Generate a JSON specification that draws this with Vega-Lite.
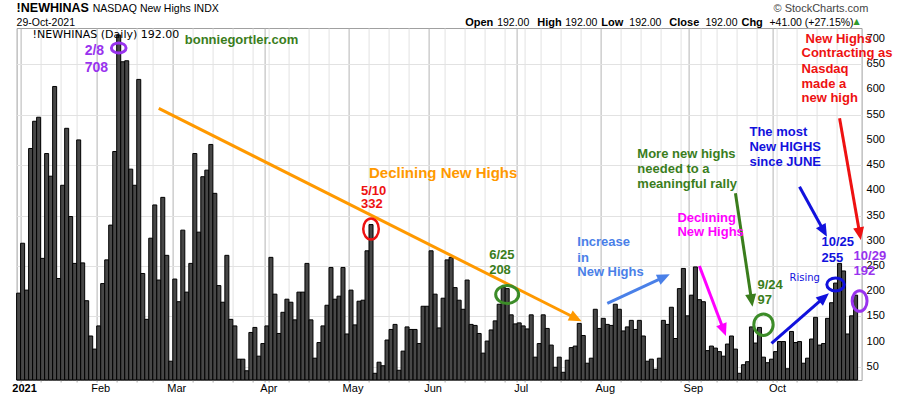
{
"$schema": "https://vega.github.io/schema/vega-lite/v6.json",
"width": 845, "height": 352,
"autosize": "none",
"padding": {"left": 16.6, "top": 28, "right": 38.4, "bottom": 16},
"background": "white",
"config": {"view": {"stroke": "#a0a0a0", "strokeWidth": 1}},
"datasets": {
"bars": [
{"date":"2020-12-31","v":196},{"date":"2021-01-04","v":295},{"date":"2021-01-05","v":202},{"date":"2021-01-06","v":483},{"date":"2021-01-07","v":537},{"date":"2021-01-08","v":545},{"date":"2021-01-11","v":265},{"date":"2021-01-12","v":473},{"date":"2021-01-13","v":428},{"date":"2021-01-14","v":606},{"date":"2021-01-15","v":225},{"date":"2021-01-19","v":410},{"date":"2021-01-20","v":523},{"date":"2021-01-21","v":348},{"date":"2021-01-22","v":255},{"date":"2021-01-25","v":500},{"date":"2021-01-26","v":256},{"date":"2021-01-27","v":181},{"date":"2021-01-28","v":111},{"date":"2021-01-29","v":85},
{"date":"2021-02-01","v":131},{"date":"2021-02-02","v":215},{"date":"2021-02-03","v":262},{"date":"2021-02-04","v":331},{"date":"2021-02-05","v":477},{"date":"2021-02-08","v":708},{"date":"2021-02-09","v":655},{"date":"2021-02-10","v":657},{"date":"2021-02-11","v":442},{"date":"2021-02-12","v":410},{"date":"2021-02-16","v":620},{"date":"2021-02-17","v":235},{"date":"2021-02-18","v":144},{"date":"2021-02-19","v":305},{"date":"2021-02-22","v":371},{"date":"2021-02-23","v":222},{"date":"2021-02-24","v":386},{"date":"2021-02-25","v":271},{"date":"2021-02-26","v":61},
{"date":"2021-03-01","v":224},{"date":"2021-03-02","v":179},{"date":"2021-03-03","v":321},{"date":"2021-03-04","v":198},{"date":"2021-03-05","v":255},{"date":"2021-03-08","v":473},{"date":"2021-03-09","v":317},{"date":"2021-03-10","v":427},{"date":"2021-03-11","v":440},{"date":"2021-03-12","v":491},{"date":"2021-03-15","v":394},{"date":"2021-03-16","v":211},{"date":"2021-03-17","v":178},{"date":"2021-03-18","v":271},{"date":"2021-03-19","v":144},{"date":"2021-03-22","v":131},{"date":"2021-03-23","v":65},{"date":"2021-03-24","v":65},{"date":"2021-03-25","v":42},{"date":"2021-03-26","v":118},{"date":"2021-03-29","v":128},{"date":"2021-03-30","v":71},{"date":"2021-03-31","v":96},
{"date":"2021-04-01","v":131},{"date":"2021-04-05","v":267},{"date":"2021-04-06","v":194},{"date":"2021-04-07","v":116},{"date":"2021-04-08","v":158},{"date":"2021-04-09","v":184},{"date":"2021-04-12","v":178},{"date":"2021-04-13","v":143},{"date":"2021-04-14","v":198},{"date":"2021-04-15","v":198},{"date":"2021-04-16","v":255},{"date":"2021-04-19","v":143},{"date":"2021-04-20","v":67},{"date":"2021-04-21","v":98},{"date":"2021-04-22","v":131},{"date":"2021-04-23","v":172},{"date":"2021-04-26","v":247},{"date":"2021-04-27","v":184},{"date":"2021-04-28","v":190},{"date":"2021-04-29","v":247},{"date":"2021-04-30","v":115},
{"date":"2021-05-03","v":202},{"date":"2021-05-04","v":133},{"date":"2021-05-05","v":180},{"date":"2021-05-06","v":182},{"date":"2021-05-07","v":280},{"date":"2021-05-10","v":332},{"date":"2021-05-11","v":37},{"date":"2021-05-12","v":59},{"date":"2021-05-13","v":52},{"date":"2021-05-14","v":103},{"date":"2021-05-17","v":124},{"date":"2021-05-18","v":134},{"date":"2021-05-19","v":43},{"date":"2021-05-20","v":81},{"date":"2021-05-21","v":129},{"date":"2021-05-24","v":124},{"date":"2021-05-25","v":124},{"date":"2021-05-26","v":96},{"date":"2021-05-27","v":170},{"date":"2021-05-28","v":170},
{"date":"2021-06-01","v":280},{"date":"2021-06-02","v":194},{"date":"2021-06-03","v":127},{"date":"2021-06-04","v":186},{"date":"2021-06-07","v":262},{"date":"2021-06-08","v":267},{"date":"2021-06-09","v":207},{"date":"2021-06-10","v":182},{"date":"2021-06-11","v":164},{"date":"2021-06-14","v":222},{"date":"2021-06-15","v":134},{"date":"2021-06-16","v":132},{"date":"2021-06-17","v":116},{"date":"2021-06-18","v":77},{"date":"2021-06-21","v":101},{"date":"2021-06-22","v":123},{"date":"2021-06-23","v":141},{"date":"2021-06-24","v":174},{"date":"2021-06-25","v":208},{"date":"2021-06-28","v":205},{"date":"2021-06-29","v":153},{"date":"2021-06-30","v":135},
{"date":"2021-07-01","v":137},{"date":"2021-07-02","v":131},{"date":"2021-07-06","v":125},{"date":"2021-07-07","v":153},{"date":"2021-07-08","v":69},{"date":"2021-07-09","v":96},{"date":"2021-07-12","v":153},{"date":"2021-07-13","v":126},{"date":"2021-07-14","v":93},{"date":"2021-07-15","v":49},{"date":"2021-07-16","v":69},{"date":"2021-07-19","v":39},{"date":"2021-07-20","v":63},{"date":"2021-07-21","v":88},{"date":"2021-07-22","v":91},{"date":"2021-07-23","v":136},{"date":"2021-07-26","v":112},{"date":"2021-07-27","v":57},{"date":"2021-07-28","v":67},{"date":"2021-07-29","v":164},{"date":"2021-07-30","v":126},
{"date":"2021-08-02","v":146},{"date":"2021-08-03","v":134},{"date":"2021-08-04","v":132},{"date":"2021-08-05","v":174},{"date":"2021-08-06","v":164},{"date":"2021-08-09","v":121},{"date":"2021-08-10","v":129},{"date":"2021-08-11","v":142},{"date":"2021-08-12","v":124},{"date":"2021-08-13","v":142},{"date":"2021-08-16","v":111},{"date":"2021-08-17","v":61},{"date":"2021-08-18","v":65},{"date":"2021-08-19","v":45},{"date":"2021-08-20","v":67},{"date":"2021-08-23","v":142},{"date":"2021-08-24","v":134},{"date":"2021-08-25","v":168},{"date":"2021-08-26","v":106},{"date":"2021-08-27","v":205},{"date":"2021-08-30","v":245},{"date":"2021-08-31","v":151},
{"date":"2021-09-01","v":192},{"date":"2021-09-02","v":248},{"date":"2021-09-03","v":183},{"date":"2021-09-07","v":179},{"date":"2021-09-08","v":82},{"date":"2021-09-09","v":91},{"date":"2021-09-10","v":87},{"date":"2021-09-13","v":80},{"date":"2021-09-14","v":71},{"date":"2021-09-15","v":95},{"date":"2021-09-16","v":111},{"date":"2021-09-17","v":85},{"date":"2021-09-20","v":37},{"date":"2021-09-21","v":54},{"date":"2021-09-22","v":60},{"date":"2021-09-23","v":129},{"date":"2021-09-24","v":97},{"date":"2021-09-27","v":128},{"date":"2021-09-28","v":69},{"date":"2021-09-29","v":58},{"date":"2021-09-30","v":65},
{"date":"2021-10-01","v":80},{"date":"2021-10-04","v":100},{"date":"2021-10-05","v":100},{"date":"2021-10-06","v":46},{"date":"2021-10-07","v":120},{"date":"2021-10-08","v":98},{"date":"2021-10-11","v":100},{"date":"2021-10-12","v":57},{"date":"2021-10-13","v":67},{"date":"2021-10-14","v":105},{"date":"2021-10-15","v":148},{"date":"2021-10-18","v":93},{"date":"2021-10-19","v":96},{"date":"2021-10-20","v":146},{"date":"2021-10-21","v":177},{"date":"2021-10-22","v":216},{"date":"2021-10-25","v":255},{"date":"2021-10-26","v":240},{"date":"2021-10-27","v":115},{"date":"2021-10-28","v":151},{"date":"2021-10-29","v":192}
],
"ylabels": [
{"date":"2021-11-01","v":50},{"date":"2021-11-01","v":100},{"date":"2021-11-01","v":150},{"date":"2021-11-01","v":200},{"date":"2021-11-01","v":250},{"date":"2021-11-01","v":300},{"date":"2021-11-01","v":350},{"date":"2021-11-01","v":400},{"date":"2021-11-01","v":450},{"date":"2021-11-01","v":500},{"date":"2021-11-01","v":550},{"date":"2021-11-01","v":600},{"date":"2021-11-01","v":650},{"date":"2021-11-01","v":700}
],
"notes": [
{"date":"2021-05-06","v":399.2,"t":"5/10","g":"red"},
{"date":"2021-05-06","v":372.9,"t":"332","g":"red"},
{"date":"2021-06-22","v":271.7,"t":"6/25","g":"green"},
{"date":"2021-06-22","v":241.9,"t":"208","g":"green"},
{"date":"2021-07-23","v":296.9,"t":"Increase","g":"cblue"},
{"date":"2021-07-23","v":266.3,"t":"in","g":"cblue"},
{"date":"2021-07-23","v":237.4,"t":"New Highs","g":"cblue"},
{"date":"2021-08-13","v":471.5,"t":"More new highs","g":"green"},
{"date":"2021-08-13","v":441.7,"t":"needed to a","g":"green"},
{"date":"2021-08-13","v":411.9,"t":"meaningful rally","g":"green"},
{"date":"2021-08-27","v":345.7,"t":"Declining","g":"magenta"},
{"date":"2021-08-27","v":316.7,"t":"New Highs","g":"magenta"},
{"date":"2021-09-27","v":212.2,"t":"9/24","g":"green"},
{"date":"2021-09-27","v":182.4,"t":"97","g":"green"},
{"date":"2021-09-23","v":516.3,"t":"The most","g":"blue"},
{"date":"2021-09-23","v":485.3,"t":"New HIGHS","g":"blue"},
{"date":"2021-09-23","v":455.6,"t":"since JUNE","g":"blue"},
{"date":"2021-10-19","v":296.9,"t":"10/25","g":"blue"},
{"date":"2021-10-19","v":266.3,"t":"255","g":"blue"},
{"date":"2021-10-29","v":269.7,"t":"10/29","g":"purple"},
{"date":"2021-10-29","v":240.5,"t":"192","g":"purple"},
{"date":"2021-10-13","v":699.6,"t":"New Highs","g":"red"},
{"date":"2021-10-12","v":671.9,"t":"Contracting as","g":"red"},
{"date":"2021-10-12","v":640.7,"t":"Nasdaq","g":"red"},
{"date":"2021-10-12","v":610.9,"t":"made a","g":"red"},
{"date":"2021-10-12","v":582.6,"t":"new high","g":"red"},
{"date":"2021-03-04","v":698.2,"t":"bonniegortler.com","g":"green"}
],
"peak": [
{"date":"2021-01-27","v":677,"t":"2/8"},
{"date":"2021-01-27","v":642.1,"t":"708"}
],
"arrows": [
{"id":"trend","g":"orange","date":"2021-02-23","v":562.7},
{"id":"trend","g":"orange","date":"2021-07-22","v":146.7},
{"id":"rally","g":"green","date":"2021-09-17","v":394.1},
{"id":"rally","g":"green","date":"2021-09-23","v":182.8},
{"id":"decl","g":"magenta","date":"2021-09-03","v":249.9},
{"id":"decl","g":"magenta","date":"2021-09-14","v":123.9},
{"id":"incr","g":"cblue","date":"2021-08-03","v":175.9},
{"id":"incr","g":"cblue","date":"2021-08-23","v":227.4},
{"id":"most","g":"blue","date":"2021-10-11","v":407.2},
{"id":"most","g":"blue","date":"2021-10-19","v":320.1},
{"id":"rise","g":"blue","date":"2021-09-30","v":96.5},
{"id":"rise","g":"blue","date":"2021-10-19","v":186.4},
{"id":"contr","g":"red","date":"2021-10-25","v":542.9},
{"id":"contr","g":"red","date":"2021-11-01","v":315.1}
],
"heads": [
{"g":"orange","date":"2021-07-22","v":146.7,"a":26.7},
{"g":"green","date":"2021-09-23","v":182.8,"a":81.5},
{"g":"magenta","date":"2021-09-14","v":123.9,"a":69.3},
{"g":"cblue","date":"2021-08-23","v":227.4,"a":-24.9},
{"g":"blue","date":"2021-10-19","v":320.1,"a":61.3},
{"g":"blue","date":"2021-10-19","v":186.4,"a":-41},
{"g":"red","date":"2021-11-01","v":315.1,"a":80.1}
],
"hdrBold": [
{"date":"2021-06-14","v":732.6,"t":"Open"},
{"date":"2021-07-09","v":732.6,"t":"High"},
{"date":"2021-08-02","v":732.6,"t":"Low"},
{"date":"2021-08-25","v":732.6,"t":"Close"},
{"date":"2021-09-21","v":732.6,"t":"Chg"}
],
"hdrReg": [
{"date":"2021-01-29","v":759.3,"t":"NASDAQ New Highs  INDX"},
{"date":"2020-12-31","v":732.6,"t":"29-Oct-2021"},
{"date":"2021-06-24","v":732.6,"t":"192.00"},
{"date":"2021-07-20","v":732.6,"t":"192.00"},
{"date":"2021-08-11","v":732.6,"t":"192.00"},
{"date":"2021-09-08","v":732.6,"t":"192.00"},
{"date":"2021-09-30","v":732.6,"t":"+41.00 (+27.15%)"}
]
},
"layer": [
{
"data": {"name": "bars"},
"mark": {"type": "bar", "fill": "#474747", "stroke": "#000000", "strokeWidth": 1},
"encoding": {
"x": {"field": "date", "type": "ordinal", "scale": {"type": "band", "paddingInner": 0, "paddingOuter": 0},
 "axis": {"title": null, "orient": "bottom", "bandPosition": 0, "domain": false,
  "values": ["2021-01-04","2021-01-11","2021-01-19","2021-01-25","2021-02-01","2021-02-08","2021-02-16","2021-02-22","2021-03-01","2021-03-08","2021-03-15","2021-03-22","2021-03-29","2021-04-01","2021-04-05","2021-04-12","2021-04-19","2021-04-26","2021-05-03","2021-05-10","2021-05-17","2021-05-24","2021-06-01","2021-06-07","2021-06-14","2021-06-21","2021-06-28","2021-07-01","2021-07-06","2021-07-12","2021-07-19","2021-07-26","2021-08-02","2021-08-09","2021-08-16","2021-08-23","2021-08-30","2021-09-01","2021-09-07","2021-09-13","2021-09-20","2021-09-27","2021-10-01","2021-10-04","2021-10-11","2021-10-18","2021-10-25"],
  "labelExpr": "indexof(['2021-02-01','2021-03-01','2021-04-01','2021-05-03','2021-06-01','2021-07-01','2021-08-02','2021-09-01','2021-10-01'], datum.value) >= 0 ? utcFormat(toDate(datum.value), '%b') : (datum.value == '2021-01-04' ? '2021' : '')",
  "labelAngle": 0, "labelOverlap": false, "labelBound": false, "labelFont": "Liberation Sans", "labelFontSize": 11, "labelColor": "#000000",
  "labelFontWeight": {"condition": {"test": "datum.value == '2021-01-04'", "value": "bold"}, "value": "normal"},
  "labelPadding": 0, "labelOffset": 2,
  "ticks": true, "tickSize": 2, "tickColor": "#aaaaaa",
  "grid": true,
  "gridColor": {"condition": {"test": "indexof(['2021-01-04','2021-02-01','2021-03-01','2021-04-01','2021-05-03','2021-06-01','2021-07-01','2021-08-02','2021-09-01','2021-10-01'], datum.value) >= 0", "value": "#b4b4b4"}, "value": "#e2e2e2"}
 }},
"y": {"field": "v", "type": "quantitative", "scale": {"domain": [23.7, 722], "zero": false, "nice": false},
 "axis": {"title": null, "orient": "right", "values": [50,100,150,200,250,300,350,400,450,500,550,600,650,700], "labels": false, "domain": false, "ticks": false, "grid": true, "gridColor": "#e2e2e2"}},
"y2": {"datum": 23.7}
}
},
{
"data": {"name": "ylabels"},
"mark": {"type": "text", "font": "Liberation Sans", "fontSize": 11, "align": "left", "baseline": "middle", "color": "#000000", "dx": 5},
"encoding": {
"x": {"field": "date", "type": "ordinal", "bandPosition": 1, "scale": {"type": "band", "paddingInner": 0, "paddingOuter": 0}},
"y": {"field": "v", "type": "quantitative"},
"text": {"field": "v", "type": "quantitative"}
}
},
{
"data": {"name": "arrows"},
"mark": {"type": "line", "strokeWidth": 3, "strokeCap": "butt"},
"encoding": {
"x": {"field": "date", "type": "ordinal", "scale": {"type": "band", "paddingInner": 0, "paddingOuter": 0}},
"y": {"field": "v", "type": "quantitative"},
"detail": {"field": "id"},
"color": {"field": "g", "type": "nominal", "legend": null, "scale": {"domain": ["purple","red","orange","green","cblue","magenta","blue"], "range": ["#9933ee","#ee1111","#ff9900","#3a7d1c","#4a80e8","#ff00ff","#1111dd"]}}
}
},
{
"data": {"name": "heads"},
"mark": {"type": "point", "filled": true, "opacity": 1, "size": 200, "strokeWidth": 0, "shape": "M 1 0 L -0.8 -0.78 L -0.8 0.78 Z"},
"encoding": {
"x": {"field": "date", "type": "ordinal", "scale": {"type": "band", "paddingInner": 0, "paddingOuter": 0}},
"y": {"field": "v", "type": "quantitative"},
"angle": {"field": "a", "type": "quantitative", "scale": null},
"color": {"field": "g", "type": "nominal", "legend": null, "scale": {"domain": ["purple","red","orange","green","cblue","magenta","blue"], "range": ["#9933ee","#ee1111","#ff9900","#3a7d1c","#4a80e8","#ff00ff","#1111dd"]}}
}
},
{
"data": {"values": [{"date":"2021-02-08","v":682.4}]},
"mark": {"type": "point", "filled": false, "opacity": 1, "color": "#9933ee", "strokeWidth": 3, "size": 215, "shape": "M -1 0 A 1 0.69 0 1 0 1 0 A 1 0.69 0 1 0 -1 0 Z"},
"encoding": {"x": {"field": "date", "type": "ordinal", "scale": {"type": "band", "paddingInner": 0, "paddingOuter": 0}}, "y": {"field": "v", "type": "quantitative"}}
},
{
"data": {"values": [{"date":"2021-05-10","v":323.3}]},
"mark": {"type": "point", "filled": false, "opacity": 1, "color": "#ee1111", "strokeWidth": 2.5, "size": 441, "shape": "M 0 -1 A 0.74 1 0 1 0 0 1 A 0.74 1 0 1 0 0 -1 Z"},
"encoding": {"x": {"field": "date", "type": "ordinal", "scale": {"type": "band", "paddingInner": 0, "paddingOuter": 0}}, "y": {"field": "v", "type": "quantitative"}}
},
{
"data": {"values": [{"date":"2021-06-28","v":193.3}]},
"mark": {"type": "point", "filled": false, "opacity": 1, "color": "#3c8c28", "strokeWidth": 3, "size": 529, "shape": "M -1 0 A 1 0.78 0 1 0 1 0 A 1 0.78 0 1 0 -1 0 Z"},
"encoding": {"x": {"field": "date", "type": "ordinal", "scale": {"type": "band", "paddingInner": 0, "paddingOuter": 0}}, "y": {"field": "v", "type": "quantitative"}}
},
{
"data": {"values": [{"date":"2021-09-28","v":133.4}]},
"mark": {"type": "point", "filled": false, "opacity": 1, "color": "#3c8c28", "strokeWidth": 3, "size": 462, "shape": "M 0 -1 A 0.9 1 0 1 0 0 1 A 0.9 1 0 1 0 0 -1 Z"},
"encoding": {"x": {"field": "date", "type": "ordinal", "scale": {"type": "band", "paddingInner": 0, "paddingOuter": 0}}, "y": {"field": "v", "type": "quantitative"}}
},
{
"data": {"values": [{"date":"2021-10-22","v":213.3}]},
"mark": {"type": "point", "filled": false, "opacity": 1, "color": "#1111dd", "strokeWidth": 3, "size": 306, "shape": "M -1 0 A 1 0.74 0 1 0 1 0 A 1 0.74 0 1 0 -1 0 Z"},
"encoding": {"x": {"field": "date", "type": "ordinal", "scale": {"type": "band", "paddingInner": 0, "paddingOuter": 0}}, "y": {"field": "v", "type": "quantitative"}}
},
{
"data": {"values": [{"date":"2021-11-01","v":180.4}]},
"mark": {"type": "point", "filled": false, "opacity": 1, "color": "#9933ee", "strokeWidth": 3, "size": 428, "shape": "M 0 -1 A 0.72 1 0 1 0 0 1 A 0.72 1 0 1 0 0 -1 Z"},
"encoding": {"x": {"field": "date", "type": "ordinal", "scale": {"type": "band", "paddingInner": 0, "paddingOuter": 0}}, "y": {"field": "v", "type": "quantitative"}}
},
{
"data": {"name": "notes"},
"mark": {"type": "text", "font": "Liberation Sans", "fontSize": 13, "fontWeight": "bold", "align": "left", "baseline": "middle"},
"encoding": {
"x": {"field": "date", "type": "ordinal", "bandPosition": 0, "scale": {"type": "band", "paddingInner": 0, "paddingOuter": 0}},
"y": {"field": "v", "type": "quantitative"},
"text": {"field": "t"},
"color": {"field": "g", "type": "nominal", "legend": null, "scale": {"domain": ["purple","red","orange","green","cblue","magenta","blue"], "range": ["#9933ee","#ee1111","#ff9900","#3a7d1c","#4a80e8","#ff00ff","#1111dd"]}}
}
},
{
"data": {"name": "peak"},
"mark": {"type": "text", "font": "Liberation Sans", "fontSize": 14, "fontWeight": "bold", "align": "left", "baseline": "middle", "color": "#9933ee"},
"encoding": {
"x": {"field": "date", "type": "ordinal", "bandPosition": 0, "scale": {"type": "band", "paddingInner": 0, "paddingOuter": 0}},
"y": {"field": "v", "type": "quantitative"},
"text": {"field": "t"}
}
},
{
"data": {"values": [{"date":"2021-05-10","v":433.8,"t":"Declining New Highs"}]},
"mark": {"type": "text", "font": "Liberation Sans", "fontSize": 15, "fontWeight": "bold", "align": "left", "baseline": "middle", "color": "#ff9900"},
"encoding": {
"x": {"field": "date", "type": "ordinal", "bandPosition": 0, "scale": {"type": "band", "paddingInner": 0, "paddingOuter": 0}},
"y": {"field": "v", "type": "quantitative"},
"text": {"field": "t"}
}
},
{
"data": {"values": [{"date":"2021-10-07","v":226.6,"t":"Rising"}]},
"mark": {"type": "text", "font": "DejaVu Sans", "fontSize": 10, "align": "left", "baseline": "middle", "color": "#1111dd"},
"encoding": {
"x": {"field": "date", "type": "ordinal", "bandPosition": 0, "scale": {"type": "band", "paddingInner": 0, "paddingOuter": 0}},
"y": {"field": "v", "type": "quantitative"},
"text": {"field": "t"}
}
},
{
"data": {"values": [{"date":"2021-01-07","v":708.2,"t":"!NEWHINAS (Daily) 192.00"}]},
"mark": {"type": "text", "font": "DejaVu Sans", "fontSize": 11, "align": "left", "baseline": "middle", "color": "#000000"},
"encoding": {
"x": {"field": "date", "type": "ordinal", "bandPosition": 0, "scale": {"type": "band", "paddingInner": 0, "paddingOuter": 0}},
"y": {"field": "v", "type": "quantitative"},
"text": {"field": "t"}
}
},
{
"data": {"values": [{"date":"2020-12-31","v":761.1,"t":"!NEWHINAS"}]},
"mark": {"type": "text", "font": "Liberation Sans", "fontSize": 12.5, "fontWeight": "bold", "align": "left", "baseline": "middle", "color": "#000000"},
"encoding": {
"x": {"field": "date", "type": "ordinal", "bandPosition": 0, "scale": {"type": "band", "paddingInner": 0, "paddingOuter": 0}},
"y": {"field": "v", "type": "quantitative"},
"text": {"field": "t"}
}
},
{
"data": {"name": "hdrReg"},
"mark": {"type": "text", "font": "Liberation Sans", "fontSize": 10.5, "align": "left", "baseline": "middle", "color": "#000000"},
"encoding": {
"x": {"field": "date", "type": "ordinal", "bandPosition": 0, "scale": {"type": "band", "paddingInner": 0, "paddingOuter": 0}},
"y": {"field": "v", "type": "quantitative"},
"text": {"field": "t"}
}
},
{
"data": {"name": "hdrBold"},
"mark": {"type": "text", "font": "Liberation Sans", "fontSize": 11, "fontWeight": "bold", "align": "left", "baseline": "middle", "color": "#000000"},
"encoding": {
"x": {"field": "date", "type": "ordinal", "bandPosition": 0, "scale": {"type": "band", "paddingInner": 0, "paddingOuter": 0}},
"y": {"field": "v", "type": "quantitative"},
"text": {"field": "t"}
}
},
{
"data": {"values": [{"date":"2021-10-01","v":759.1,"t":"© StockCharts.com"}]},
"mark": {"type": "text", "font": "Liberation Sans", "fontSize": 11, "align": "left", "baseline": "middle", "color": "#444444"},
"encoding": {
"x": {"field": "date", "type": "ordinal", "bandPosition": 0, "scale": {"type": "band", "paddingInner": 0, "paddingOuter": 0}},
"y": {"field": "v", "type": "quantitative"},
"text": {"field": "t"}
}
},
{
"data": {"values": [{"date":"2021-10-29","v":733.9,"t":"▲"}]},
"mark": {"type": "text", "font": "DejaVu Sans", "fontSize": 8, "align": "left", "baseline": "middle", "color": "#2e9b2e"},
"encoding": {
"x": {"field": "date", "type": "ordinal", "bandPosition": 0, "scale": {"type": "band", "paddingInner": 0, "paddingOuter": 0}},
"y": {"field": "v", "type": "quantitative"},
"text": {"field": "t"}
}
}
]
}
